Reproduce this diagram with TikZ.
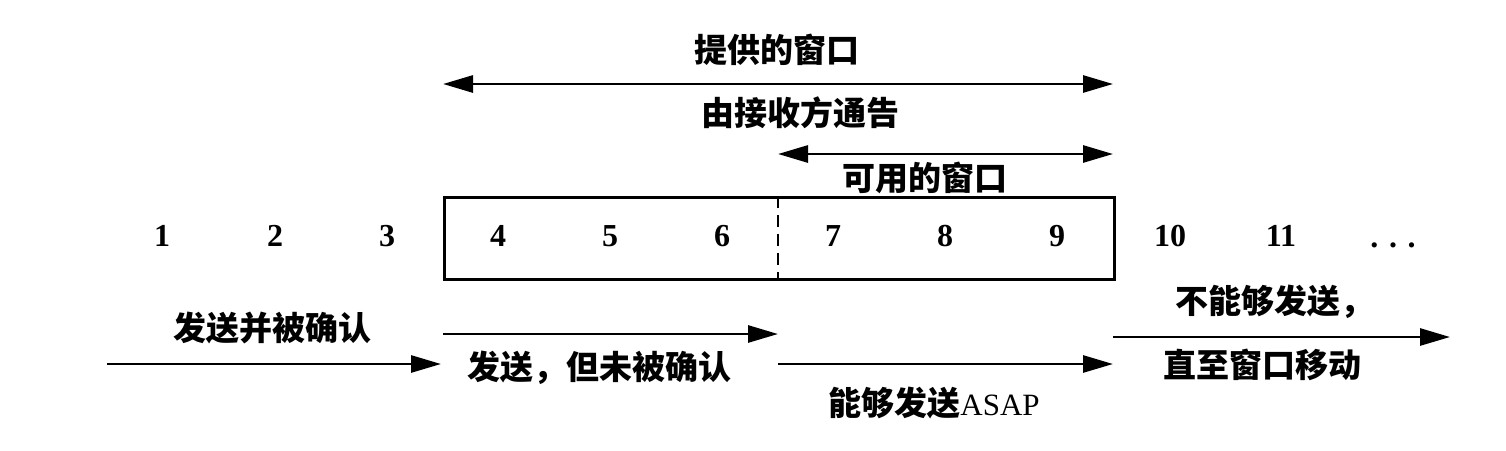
\documentclass[tikz,border=0pt]{standalone}
\usepackage{fontspec}
\setmainfont{Liberation Serif}
\newfontfamily\cjk{Noto Sans CJK SC}
\usetikzlibrary{arrows.meta}
\begin{document}
\begin{tikzpicture}[x=1pt,y=-1pt,
  lbl/.style={inner sep=0pt,font=\fontsize{33}{38}\selectfont\cjk\bfseries},
  num/.style={inner sep=0pt,font=\fontsize{32}{38}\selectfont\bfseries},
  arr/.style={line width=2.8pt,-{Triangle[length=30pt,width=17pt]}},
  darr/.style={line width=2.8pt,{Triangle[length=30pt,width=17pt]}-{Triangle[length=30pt,width=17pt]}},
  boxline/.style={line width=2.5pt}]
\useasboundingbox (0,0) rectangle (1506,450);
% window box
\node[boxline,draw,minimum width=670pt,minimum height=82pt,inner sep=0pt,anchor=north west] (win) at (443,196) {};
\coordinate (dtop) at (778,196);
\coordinate (dbot) at (778,278);
\draw[line width=2.5pt,dash pattern=on 12pt off 7pt] (dtop) -- (dbot);
% numbers
\node[num] (n1) at (162,236) {1};
\node[num] (n2) at (275,236) {2};
\node[num] (n3) at (387,236) {3};
\node[num] (n4) at (498,236) {4};
\node[num] (n5) at (610,236) {5};
\node[num] (n6) at (722,236) {6};
\node[num] (n7) at (833,236) {7};
\node[num] (n8) at (945,236) {8};
\node[num] (n9) at (1057,236) {9};
\node[num] (n10) at (1170,236) {10};
\node[num] (n11) at (1281,236) {11};
\node[num,anchor=base] (ndots) at (1393,247) {. . .};
% top arrows
\coordinate (a1l) at (443,84);
\coordinate (a1r) at (1113,84);
\draw[darr] (a1l) -- (a1r);
\node[lbl] (t1) at (777,50) {提供的窗口};
\node[lbl] (t2) at (800,113) {由接收方通告};
\coordinate (a2l) at (778,154);
\coordinate (a2r) at (1113,154);
\draw[darr] (a2l) -- (a2r);
\node[lbl] (t3) at (925,178) {可用的窗口};
% bottom arrows
\coordinate (b1l) at (107,364);
\coordinate (b1r) at (441,364);
\draw[arr] (b1l) -- (b1r);
\node[lbl] (s1) at (272,328) {发送并被确认};
\coordinate (b2l) at (443,334);
\coordinate (b2r) at (778,334);
\draw[arr] (b2l) -- (b2r);
\node[lbl] (s2) at (599,368) {发送，但未被确认};
\coordinate (b3l) at (778,364);
\coordinate (b3r) at (1113,364);
\draw[arr] (b3l) -- (b3r);
\node[lbl] (s3) at (934,403) {能够发送{\fontspec{Liberation Serif}\mdseries\fontsize{31}{36}\selectfont ASAP}};
\coordinate (b4l) at (1113,337);
\coordinate (b4r) at (1450,337);
\draw[arr] (b4l) -- (b4r);
\node[lbl] (s4) at (1274,302) {不能够发送，};
\node[lbl] (s5) at (1262,365) {直至窗口移动};
\end{tikzpicture}
\end{document}
